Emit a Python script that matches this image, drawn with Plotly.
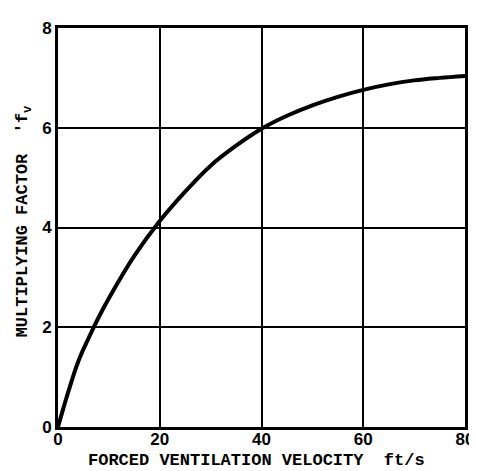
import plotly.graph_objects as go

velocity = [0, 2, 4, 6, 8, 10, 15, 20, 25, 30, 35, 40, 45, 50, 55, 60, 65, 70, 75, 80]
factor = [0, 0.7, 1.32, 1.78, 2.2, 2.58, 3.43, 4.13, 4.72, 5.24, 5.64, 5.98, 6.24, 6.45, 6.62, 6.76, 6.87, 6.95, 7.0, 7.04]
x_ticks = [0, 20, 40, 60, 80]
y_ticks = [0, 2, 4, 6, 8]
x_title = "FORCED VENTILATION VELOCITY  ft/s"
y_title = "MULTIPLYING FACTOR  'f<sub>v</sub>"

fig = go.Figure()
fig.add_trace(go.Scatter(x=velocity, y=factor, mode="lines",
                         line=dict(color="black", width=4, shape="spline", smoothing=1.0),
                         showlegend=False, hoverinfo="skip"))

tickfont = dict(family="Liberation Sans, Arial, sans-serif", size=17, color="black", weight="bold")
titlefont = dict(family="Liberation Mono, DejaVu Sans Mono, monospace", size=17, color="black", weight="bold")

fig.update_xaxes(range=[0, 80], tickvals=x_ticks, ticktext=[str(v) for v in x_ticks],
                 showgrid=True, gridcolor="black", gridwidth=2, zeroline=False,
                 showline=True, linecolor="black", linewidth=3, mirror=True,
                 ticks="", tickfont=tickfont, ticklabelstandoff=-5)
fig.update_yaxes(range=[0, 8], tickvals=y_ticks, ticktext=[str(v) for v in y_ticks],
                 showgrid=True, gridcolor="black", gridwidth=2, zeroline=False,
                 showline=True, linecolor="black", linewidth=3, mirror=True,
                 ticks="", tickfont=tickfont)

fig.add_annotation(text=x_title, xref="paper", yref="paper", x=0.488, y=-0.084,
                   xanchor="center", yanchor="middle", showarrow=False, font=titlefont)
fig.add_annotation(text=y_title, xref="paper", yref="paper", x=-0.084, y=0.515,
                   xanchor="center", yanchor="middle", textangle=-90, showarrow=False, font=titlefont)

fig.update_layout(width=477, height=471,
                  margin=dict(l=50, r=11, t=12, b=52),
                  paper_bgcolor="white", plot_bgcolor="white")

fig.write_html("out.html")
